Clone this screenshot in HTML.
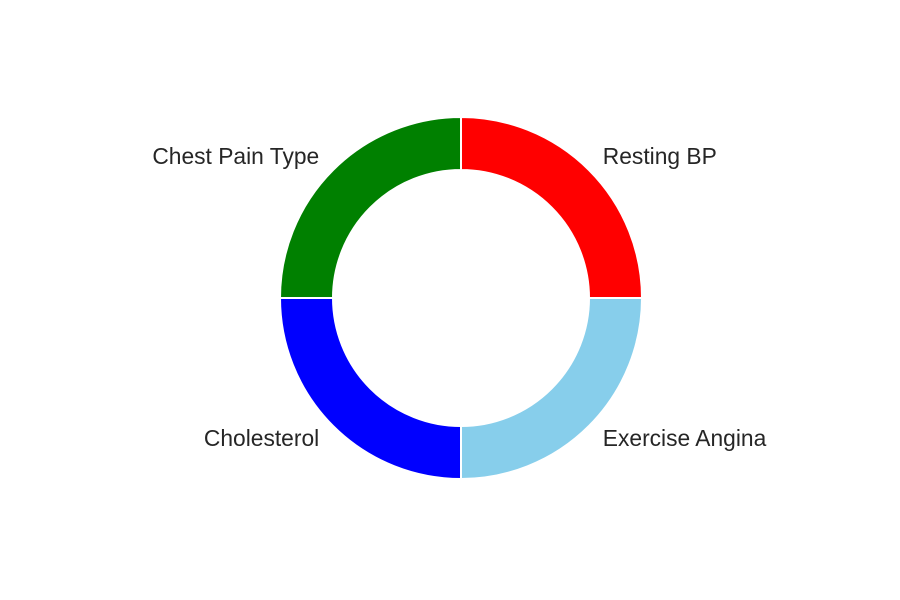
<!DOCTYPE html>
<html><head><meta charset="utf-8"><style>
html,body{margin:0;padding:0;background:#fff;}
svg{display:block;font-family:"Liberation Sans",Arial,sans-serif;}
</style></head><body>
<svg id="chart" width="900" height="600"></svg>
<script>
const categories = ["Resting BP", "Chest Pain Type", "Cholesterol", "Exercise Angina"];
const values = [1, 1, 1, 1];
const colors = ["#ff0000", "#008000", "#0000ff", "#87ceeb"];
const svg = document.getElementById('chart');
const NS = 'http://www.w3.org/2000/svg';
const cx = 461, cy = 298, R = 181, r = 128;
const total = values.reduce((a, b) => a + b, 0);
let a0 = 0;
function pt(rad, ang) { return [cx + rad * Math.cos(ang), cy - rad * Math.sin(ang)]; }
values.forEach((v, i) => {
  const a1 = a0 + v / total * 2 * Math.PI;
  const large = (a1 - a0) > Math.PI ? 1 : 0;
  const [x0, y0] = pt(R, a0), [x1, y1] = pt(R, a1), [x2, y2] = pt(r, a1), [x3, y3] = pt(r, a0);
  const p = document.createElementNS(NS, 'path');
  p.setAttribute('d', `M${x0},${y0} A${R},${R} 0 ${large} 0 ${x1},${y1} L${x2},${y2} A${r},${r} 0 ${large} 1 ${x3},${y3} Z`);
  p.setAttribute('fill', colors[i]);
  p.setAttribute('stroke', '#fff');
  p.setAttribute('stroke-width', '2');
  
  
  svg.appendChild(p);
  const am = (a0 + a1) / 2;
  const [lx, ly] = pt(R * 1.1, am);
  const t = document.createElementNS(NS, 'text');
  t.setAttribute('x', Math.cos(am) >= 0 ? lx + 1 : lx - 1);
  t.setAttribute('y', ly - 1);
  t.setAttribute('font-size', '22.8');
  t.setAttribute('fill', '#262626');
  t.setAttribute('dominant-baseline', 'central');
  t.setAttribute('text-anchor', Math.cos(am) >= 0 ? 'start' : 'end');
  t.textContent = categories[i];
  
  
  svg.appendChild(t);
  a0 = a1;
});
</script>
</body></html>
